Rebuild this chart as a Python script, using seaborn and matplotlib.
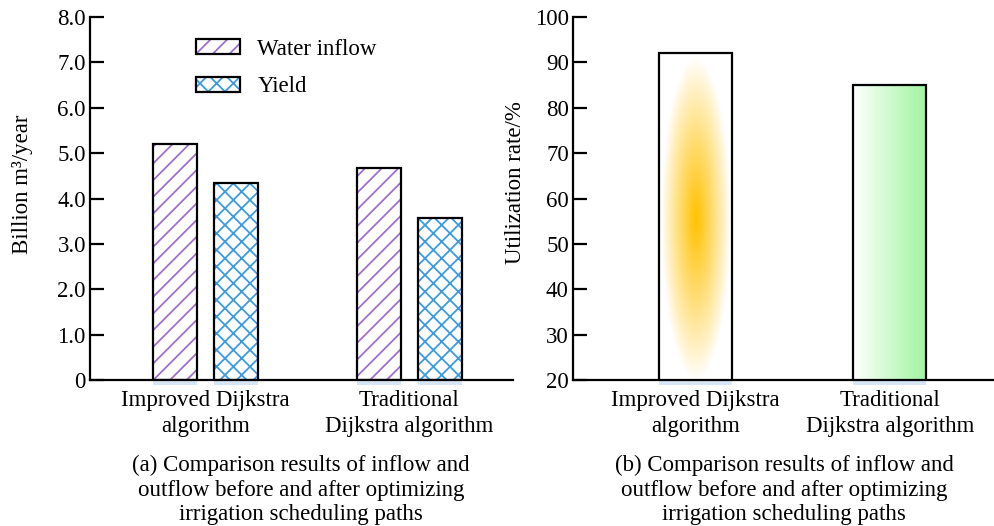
import numpy as np
import pandas as pd
import seaborn as sns
import matplotlib.pyplot as plt
from matplotlib.patches import Rectangle
from matplotlib.legend_handler import HandlerTuple

# Data
algorithms = ['Improved Dijkstra\nalgorithm', 'Traditional\nDijkstra algorithm']
series = ['Water inflow', 'Yield']
water_inflow = [5.2, 4.68]
yield_vals = [4.35, 3.56]
utilization = [92, 85]
left_ticks = [0, 1, 2, 3, 4, 5, 6, 7, 8]
left_ticklabels = ['0', '1.0', '2.0', '3.0', '4.0', '5.0', '6.0', '7.0', '8.0']
right_ticks = [20, 30, 40, 50, 60, 70, 80, 90, 100]
caption_a = '(a) Comparison results of inflow and\noutflow before and after optimizing\nirrigation scheduling paths'
caption_b = '(b) Comparison results of inflow and\noutflow before and after optimizing\nirrigation scheduling paths'

sns.set_theme(style='ticks')
plt.rcParams['font.family'] = ['Liberation Serif', 'DejaVu Serif']
plt.rcParams['hatch.linewidth'] = 1.3
plt.rcParams['text.color'] = 'black'
plt.rcParams['axes.labelcolor'] = 'black'
plt.rcParams['xtick.color'] = 'black'
plt.rcParams['ytick.color'] = 'black'
FS = 16.5

hatch_colors = ['#a070cc', '#3d9be0']
hatches = ['//', 'xx']
shadow = '#d6e6f5'

df = pd.DataFrame({
    'algorithm': algorithms * 2,
    'series': [series[0]] * 2 + [series[1]] * 2,
    'value': water_inflow + yield_vals,
})

fig = plt.figure(figsize=(9.95, 5.26), dpi=100)
ax1 = fig.add_axes([0.0905, 0.2776, 0.425, 0.690])
ax2 = fig.add_axes([0.5759, 0.2776, 0.424, 0.690])

# (a) grouped hatched bars
sns.barplot(data=df, x='algorithm', y='value', hue='series', width=0.6, gap=0.28,
            palette=['white', 'white'], ax=ax1, legend=False)
handles = []
for i, cont in enumerate(ax1.containers):
    for bar in cont:
        bar.set_facecolor('white')
        bar.set_edgecolor(hatch_colors[i])
        bar.set_hatch(hatches[i])
        bar.set_linewidth(0)
        x, w, h = bar.get_x(), bar.get_width(), bar.get_height()
        ax1.add_patch(Rectangle((x, 0), w, h, fill=False, edgecolor='black', lw=1.6, zorder=3))
        ax1.add_patch(Rectangle((x, 0), w, -0.11, facecolor=shadow, edgecolor='none',
                                clip_on=False, zorder=1))
    hp = Rectangle((0, 0), 1, 1, facecolor='white', edgecolor=hatch_colors[i], hatch=hatches[i], lw=0)
    ep = Rectangle((0, 0), 1, 1, fill=False, edgecolor='black', lw=1.6)
    handles.append((hp, ep))

ax1.legend(handles, series, handler_map={tuple: HandlerTuple(ndivide=1)},
           loc='upper left', bbox_to_anchor=(0.2506, 0.94), frameon=False,
           fontsize=FS, handlelength=1.92, handleheight=0.65, labelspacing=0.72,
           handletextpad=0.75, borderpad=0, borderaxespad=0)

ax1.set_ylim(0, 8)
ax1.set_xlim(-0.566, 1.507)
ax1.set_yticks(left_ticks, left_ticklabels)
ax1.set_ylabel('Billion m³/year', fontsize=FS)
ax1.yaxis.set_label_coords(-0.135, 0.54)
ax1.set_xlabel('')

# (b) gradient bars
sns.barplot(x=algorithms, y=utilization, width=0.376, color='white', ax=ax2)
ax2.set_ylim(20, 100)
ax2.set_xlim(-0.63, 1.54)
bars = list(ax2.patches)
for bar in bars:
    bar.set_facecolor('none')
    bar.set_edgecolor('black')
    bar.set_linewidth(1.6)
    bar.set_zorder(3)
    ax2.add_patch(Rectangle((bar.get_x(), 20), bar.get_width(), -1.1, facecolor=shadow,
                            edgecolor='none', clip_on=False, zorder=1))

# radial orange glow inside the first bar
b0 = bars[0]
x0, w0, h0 = b0.get_x(), b0.get_width(), b0.get_height()
gx = np.linspace(x0, x0 + w0, 120)
gy = np.linspace(20, h0, 400)
GX, GY = np.meshgrid(gx, gy)
r = np.sqrt(((GX - (x0 + w0 / 2)) / (0.47 * w0)) ** 2 + ((GY - 55.5) / 35.5) ** 2)
img = np.zeros(GX.shape + (4,))
img[..., 0] = 1.0
img[..., 1] = 0.76
img[..., 2] = 0.0
img[..., 3] = np.clip(1 - r, 0, 1) ** 0.9
im = ax2.imshow(img, extent=(x0, x0 + w0, 20, h0), origin='lower', aspect='auto',
                interpolation='bilinear', zorder=2)
im.set_clip_path(b0)

# linear green gradient inside the second bar
b1 = bars[1]
x1, w1, h1 = b1.get_x(), b1.get_width(), b1.get_height()
t = np.linspace(0, 1, 200)
green = np.array([0.62, 0.96, 0.62])
img2 = np.ones((2, 200, 3))
img2[:] = (1 - t)[None, :, None] * np.ones(3) + t[None, :, None] * green
im2 = ax2.imshow(img2, extent=(x1, x1 + w1, 20, h1), origin='lower', aspect='auto',
                 interpolation='bilinear', zorder=2)
im2.set_clip_path(b1)
ax2.set_yticks(right_ticks)
ax2.set_ylabel('Utilization rate/%', fontsize=FS)
ax2.yaxis.set_label_coords(-0.111, 0.545)

for ax in (ax1, ax2):
    sns.despine(ax=ax)
    ax.spines['left'].set_linewidth(1.6)
    ax.spines['bottom'].set_linewidth(1.6)
    ax.spines['left'].set_color('black')
    ax.spines['bottom'].set_color('black')
    ax.tick_params(axis='y', direction='in', length=10, width=1.6, pad=3,
                   labelsize=FS, colors='black')
    ax.tick_params(axis='x', length=0, pad=7, labelsize=FS, colors='black')
    for lab in ax.get_xticklabels():
        lab.set_linespacing(1.3)
    ax.set_facecolor('white')

fig.text(301 / 995, 1 - 455 / 526, caption_a, ha='center', va='top', fontsize=FS, linespacing=1.22)
fig.text(784 / 995, 1 - 455 / 526, caption_b, ha='center', va='top', fontsize=FS, linespacing=1.22)

fig.savefig('out.png', dpi=100, facecolor='white')
